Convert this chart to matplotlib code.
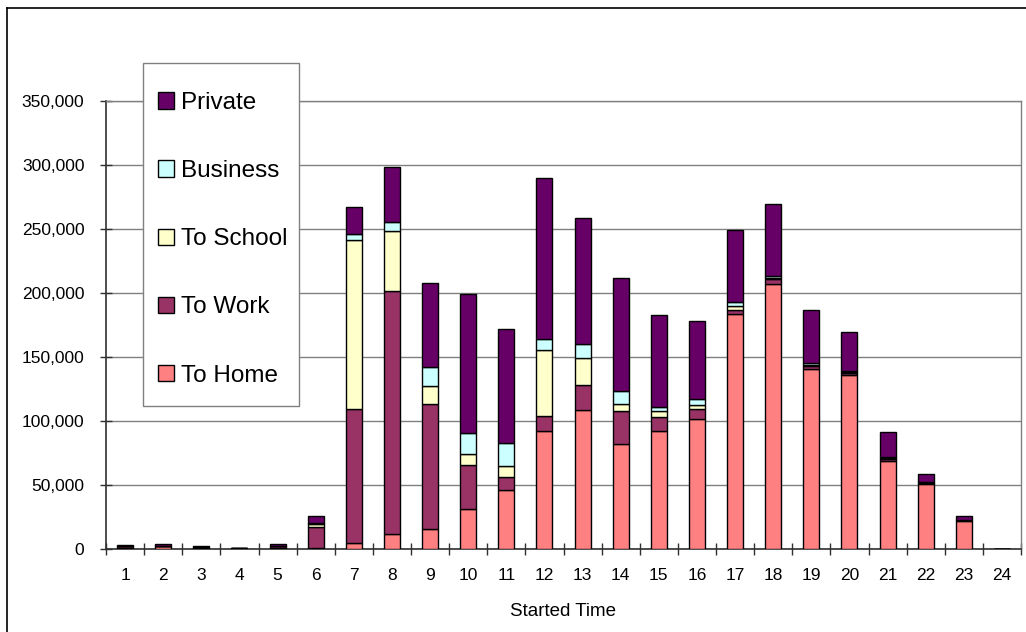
import matplotlib
matplotlib.use("Agg")
import matplotlib.pyplot as plt
import numpy as np
from matplotlib.lines import Line2D
from matplotlib.patches import Rectangle
from matplotlib.ticker import FuncFormatter, MultipleLocator, FixedLocator

plt.rcParams['font.family'] = ['Liberation Sans', 'DejaVu Sans']

hours = [str(h) for h in range(1, 25)]
to_home = [400, 2000, 500, 300, 500, 500, 4500, 12000, 16000, 31500, 45800, 92400,
           108300, 81800, 91900, 101300, 183600, 207300, 140600, 135700, 69000, 50800, 22100, 0]
to_work = [1800, 500, 800, 300, 1500, 16500, 105000, 189600, 97600, 34400, 10700, 11800,
           19600, 25800, 11200, 7800, 3400, 3500, 2000, 1500, 1500, 1000, 600, 0]
to_school = [0, 0, 0, 0, 0, 2700, 132000, 46600, 13600, 8600, 8300, 51300,
             21100, 5900, 4500, 3700, 3100, 1000, 1000, 700, 700, 200, 100, 0]
business = [0, 100, 0, 0, 0, 1000, 4700, 7000, 15100, 16400, 18300, 8800,
            10900, 10200, 3300, 4400, 2900, 1500, 1500, 800, 1000, 300, 200, 0]
private = [600, 1000, 1000, 400, 1600, 4800, 21000, 43500, 65300, 108100, 88800, 125300,
           98700, 88300, 71900, 61200, 56000, 56300, 41900, 30500, 19000, 6300, 2800, 0]

series = [("To Home", to_home, "#FF8080"),
          ("To Work", to_work, "#993366"),
          ("To School", to_school, "#FFFFCC"),
          ("Business", business, "#CCFFFF"),
          ("Private", private, "#660066")]

W, H = 1026, 632
fig = plt.figure(figsize=(W / 100, H / 100), dpi=100)
ax = fig.add_axes([106 / W, 1 - 549 / H, (1021 - 106) / W, (549 - 101) / H])

x = np.arange(1, len(hours) + 1)
bottom = np.zeros(len(hours))
handles = {}
for name, vals, col in series:
    v = np.array(vals, dtype=float)
    b = ax.bar(x, v, width=0.42, bottom=bottom, color=col, edgecolor="black",
               linewidth=1.0, label=name, zorder=3)
    handles[name] = b
    bottom += v

ax.set_xlim(0.5, 24.5)
ax.set_ylim(0, 350000)
ax.yaxis.set_major_locator(MultipleLocator(50000))
ax.yaxis.set_major_formatter(FuncFormatter(lambda v, p: f"{int(v):,}"))
ax.grid(axis="y", color="#808080", linewidth=1.0, zorder=0)

ax.xaxis.set_major_locator(FixedLocator(np.arange(0.5, 25, 1)))
ax.xaxis.set_minor_locator(FixedLocator(x))
ax.set_xticklabels([], minor=False)
ax.set_xticklabels(hours, minor=True)
ax.tick_params(axis="x", which="major", direction="inout", length=9, width=1, color="#303030")
ax.tick_params(axis="x", which="minor", length=0, pad=14, labelsize=12.5)
ax.tick_params(axis="y", direction="inout", length=9, width=1, color="#303030", pad=11,
               labelsize=12.5)

for s in ["left", "bottom"]:
    ax.spines[s].set_color("#303030")
    ax.spines[s].set_linewidth(1.2)
for s in ["top", "right"]:
    ax.spines[s].set_color("#808080")
    ax.spines[s].set_linewidth(1.0)

ax.set_xlabel("Started Time", fontsize=13.5, labelpad=14)

# legend box
box = Rectangle((143 / W, 1 - 406 / H), (299 - 143) / W, (406 - 63) / H,
                transform=fig.transFigure, facecolor="white", edgecolor="#808080",
                linewidth=1.0, zorder=4, clip_on=False)
ax.add_patch(box)

order = ["Private", "Business", "To School", "To Work", "To Home"]
leg = ax.legend([handles[n] for n in order], order, loc="upper left",
                bbox_to_anchor=(136 / W, 1 - 70 / H), bbox_transform=fig.transFigure,
                borderaxespad=0, fontsize=17.5, labelspacing=1.9, handlelength=0.66,
                handleheight=0.66, handletextpad=0.3, borderpad=0.9, frameon=False)
leg.set_zorder(5)

# outer chart frame
fig.add_artist(Line2D([7 / W, 7 / W], [0, 1 - 8 / H], transform=fig.transFigure,
                      color="black", linewidth=1.2))
fig.add_artist(Line2D([7 / W, 1], [1 - 8 / H, 1 - 8 / H], transform=fig.transFigure,
                      color="black", linewidth=1.2))

fig.savefig("out.png", dpi=100)
